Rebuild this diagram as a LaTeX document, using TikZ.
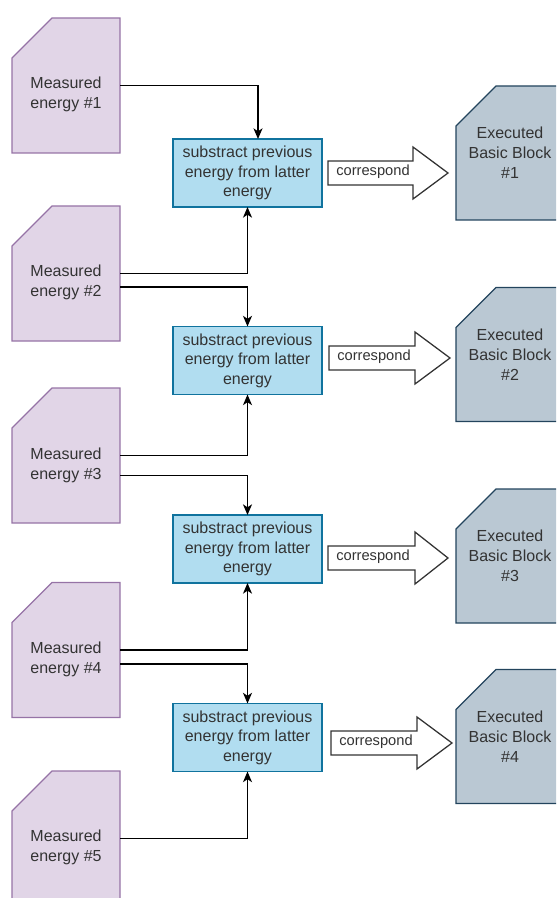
\documentclass[tikz,border=0pt]{standalone}
\usepackage{fontspec}
\setmainfont{Liberation Sans}
\usetikzlibrary{arrows.meta,calc}

\definecolor{cardfill}{HTML}{E1D5E7}
\definecolor{carddraw}{HTML}{9673A6}
\definecolor{stepfill}{HTML}{B1DDF0}
\definecolor{stepdraw}{HTML}{10739E}
\definecolor{blockfill}{HTML}{BAC8D3}
\definecolor{blockdraw}{HTML}{23445D}
\definecolor{ink}{HTML}{333333}

\tikzset{
  frame/.style={rectangle, inner sep=0pt, outer sep=0pt, minimum width=81pt},
  card/.style={frame, minimum height=101.25pt},
  block/.style={frame, minimum height=100.5pt},
  cardline/.style={fill=cardfill, draw=carddraw, line width=0.95pt, line join=miter},
  blockline/.style={fill=blockfill, draw=blockdraw, line width=0.95pt, line join=miter},
  txt/.style={align=center, inner sep=0pt, text=ink,
    font=\fontsize{12}{15}\selectfont},
  stepbox/.style={txt, rectangle, fill=stepfill, draw=stepdraw, line width=0.95pt,
    minimum width=111.75pt, minimum height=51pt, outer sep=0pt,
    font=\fontsize{12}{14.6}\selectfont},
  conn/.style={draw=black, line width=0.95pt,
    -{Stealth[length=8pt,width=6.75pt,inset=2.2pt]}},
  corr/.style={draw=ink, fill=white, line width=0.95pt, line join=miter},
  corrtext/.style={inner sep=0pt, text=ink, font=\fontsize{11}{13}\selectfont},
}

% outline of a box whose top-left corner is cut off by 40 units
\newcommand\cutcorner[2]{%
  \path[#2] ($(#1.north west)+(0,40)$) -- ($(#1.north west)+(40,0)$)
    -- (#1.north east) -- (#1.south east) -- (#1.south west) -- cycle;}

\begin{document}
\begin{tikzpicture}[x=0.75pt,y=-0.75pt]
  \useasboundingbox (0,0) rectangle (556,898);
  \clip (0,0) rectangle (556,898);

  % measured energy cards
  \node[card] (m1) at (66,85.5) {};
  \node[card] (m2) at (66,273.5) {};
  \node[card] (m3) at (66,455.5) {};
  \node[card] (m4) at (66,650) {};
  \node[card] (m5) at (66,838.5) {};
  \foreach \n in {m1,m2,m3,m4,m5}{\cutcorner{\n}{cardline}}
  \node[txt] (m1t) at ($(m1.center)+(0,9)$) {Measured\\energy \#1};
  \node[txt] (m2t) at ($(m2.center)+(0,9)$) {Measured\\energy \#2};
  \node[txt] (m3t) at ($(m3.center)+(0,9.5)$) {Measured\\energy \#3};
  \node[txt] (m4t) at ($(m4.center)+(0,9)$) {Measured\\energy \#4};
  \node[txt] (m5t) at ($(m5.center)+(0,8.5)$) {Measured\\energy \#5};

  % difference steps
  \node[stepbox] (b1) at (247.5,173) {substract previous\\energy from latter\\energy};
  \node[stepbox] (b2) at (247.5,360.5) {substract previous\\energy from latter\\energy};
  \node[stepbox] (b3) at (247.5,549) {substract previous\\energy from latter\\energy};
  \node[stepbox] (b4) at (247.5,737.5) {substract previous\\energy from latter\\energy};

  % executed basic blocks
  \node[block] (e1) at (510,153) {};
  \node[block] (e2) at (510,354.5) {};
  \node[block] (e3) at (510,556) {};
  \node[block] (e4) at (510,736.5) {};
  \foreach \n in {e1,e2,e3,e4}{\cutcorner{\n}{blockline}}
  \node[txt] (e1t) at (e1.center) {Executed\\Basic Block\\\#1};
  \node[txt] (e2t) at (e2.center) {Executed\\Basic Block\\\#2};
  \node[txt] (e3t) at (e3.center) {Executed\\Basic Block\\\#3};
  \node[txt] (e4t) at (e4.center) {Executed\\Basic Block\\\#4};

  % "correspond" block arrows
  \foreach \i/\L/\H/\T/\c in {1/328/413/448/173, 2/329/415/450/358,
                              3/328/415/448/558, 4/331/417/452/743}{
    \draw[corr] (\L,\c-12) -- (\H,\c-12) -- (\H,\c-26) -- (\T,\c)
      -- (\H,\c+26) -- (\H,\c+12) -- (\L,\c+12) -- cycle;
    \node[corrtext] (k\i) at (\L+45,\c-1) {correspond};
  }

  % energy readings into the difference steps
  \draw[conn] (m1.east) -| ($(b1.north)+(10.5,0)$);
  \draw[conn] (m2.east) -| (b1.south);
  \draw[conn] ($(m2.east)+(0,13.5)$) -| (b2.north);
  \draw[conn] (m3.east) -| (b2.south);
  \draw[conn] ($(m3.east)+(0,20)$) -| (b3.north);
  \draw[conn] (m4.east) -| (b3.south);
  \draw[conn] ($(m4.east)+(0,14)$) -| (b4.north);
  \draw[conn] (m5.east) -| (b4.south);
\end{tikzpicture}
\end{document}
